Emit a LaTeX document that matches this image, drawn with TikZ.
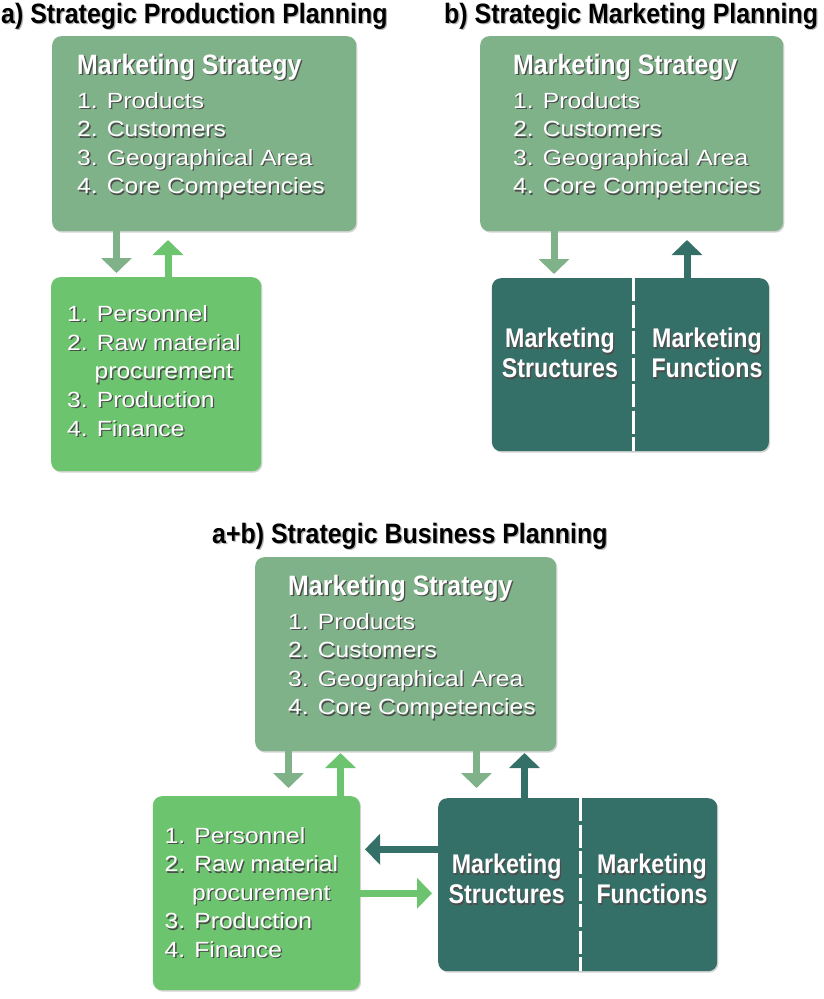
\documentclass[tikz,border=0pt]{standalone}
\usepackage{fontspec}
\usetikzlibrary{arrows.meta, calc, positioning, shadows}

\newfontfamily\headfont{Liberation Sans}[FakeStretch=0.89]
\newfontfamily\labelfont{Liberation Sans}[FakeStretch=0.86]
\newfontfamily\bodyfont{Liberation Sans}[FakeStretch=1.12]

\definecolor{stratgreen}{HTML}{80B28A}
\definecolor{prodgreen}{HTML}{6CC56E}
\definecolor{mkteal}{HTML}{357068}

% text with a small drop shadow behind it
\newcommand{\shtxt}[2][black!70]{\leavevmode\rlap{\kern1.3pt\raisebox{-1.3pt}{\textcolor{#1}{#2}}}#2}

% box contents that repeat
\newcommand{\stratlist}{\shtxt{1. Products}\\ \shtxt{2. Customers}\\ \shtxt{3. Geographical Area}\\ \shtxt{4. Core Competencies}}
\newcommand{\prodlist}{\shtxt{1. Personnel}\\ \shtxt{2. Raw material}\\ \hphantom{2.\ }\shtxt{procurement}\\ \shtxt{3. Production}\\ \shtxt{4. Finance}}

\begin{document}
\begin{tikzpicture}[
    x=1pt, y=-1pt, % pixel-like coordinates, y going down
    >=Latex,
    box/.style={rounded corners=9pt, inner sep=0pt, anchor=north west,
        drop shadow={shadow xshift=1.2pt, shadow yshift=-1.5pt, opacity=0.35}}, % all boxes
    stratbox/.style={box, fill=stratgreen},
    prodbox/.style={box, fill=prodgreen},
    mktbox/.style={box, fill=mkteal},
    title/.style={font=\headfont\bfseries\fontsize{28}{32}\selectfont, inner sep=0pt, anchor=base west},
    heading/.style={font=\headfont\bfseries\fontsize{28}{32}\selectfont, text=white, inner sep=0pt, anchor=base west},
    listtext/.style={font=\bodyfont\fontsize{22}{28.6}\selectfont, text=white, align=left, inner sep=0pt, anchor=north west},
    mktlabel/.style={font=\labelfont\bfseries\fontsize{27}{30}\selectfont, text=white, align=center, inner sep=0pt, anchor=north},
    divline/.style={white, line width=3pt, dash pattern=on 23pt off 3.5pt}, % split of the teal box
    fatarrow/.style={line width=7pt, -{Triangle[width=30pt, length=15pt]}}
]
    \useasboundingbox (0,0) rectangle (824,999);

    % Titles
    \node[title] (titleA) at (1,23) {\shtxt[black!30]{a) Strategic Production Planning}};
    \node[title] (titleB) at (444,23) {\shtxt[black!30]{b) Strategic Marketing Planning}};
    \node[title] (titleC) at (212,543) {\shtxt[black!30]{a+b) Strategic Business Planning}};

    % a) Production planning
    \node[stratbox, minimum width=304pt, minimum height=195pt] (stratA) at (52,36) {};
    \node[heading] (stratAhead) at (77,74.3) {\shtxt{Marketing Strategy}};
    \node[listtext] (stratAlist) at (77,92) {\stratlist};

    \node[prodbox, minimum width=210pt, minimum height=194pt] (prodA) at (51,277) {};
    \node[listtext] (prodAlist) at (67,305.5) {\prodlist};

    \coordinate (dnA) at (116.5,273);
    \coordinate (upA) at (168,240);
    \draw[fatarrow, stratgreen] (stratA.south -| dnA) -- (dnA);
    \draw[fatarrow, prodgreen] (prodA.north -| upA) -- (upA);

    % b) Marketing planning
    \node[stratbox, minimum width=303pt, minimum height=195pt] (stratB) at (480,36) {};
    \node[heading] (stratBhead) at (513,74.3) {\shtxt{Marketing Strategy}};
    \node[listtext] (stratBlist) at (513,92) {\stratlist};

    \node[mktbox, minimum width=277pt, minimum height=173pt] (mktB) at (491.7,278) {};
    \draw[divline] ($(mktB.north west)!0.51!(mktB.north east)$) -- ($(mktB.south west)!0.51!(mktB.south east)$);
    \node[mktlabel] (structB) at (560,328) {\shtxt{Marketing}\\ \shtxt{Structures}};
    \node[mktlabel] (funcB) at (707,328) {\shtxt{Marketing}\\ \shtxt{Functions}};

    \coordinate (dnB) at (554,274);
    \coordinate (upB) at (687,240);
    \draw[fatarrow, stratgreen] (stratB.south -| dnB) -- (dnB);
    \draw[fatarrow, mkteal] (mktB.north -| upB) -- (upB);

    % a+b) Business planning
    \node[stratbox, minimum width=301pt, minimum height=194pt] (stratC) at (255,557) {};
    \node[heading] (stratChead) at (288,595.3) {\shtxt{Marketing Strategy}};
    \node[listtext] (stratClist) at (288,613) {\stratlist};

    \node[prodbox, minimum width=207pt, minimum height=194pt] (prodC) at (152.7,796) {};
    \node[listtext] (prodClist) at (164.5,827) {\prodlist};

    \node[mktbox, minimum width=279pt, minimum height=173pt] (mktC) at (438,798) {};
    \draw[divline] ($(mktC.north west)!0.51!(mktC.north east)$) -- ($(mktC.south west)!0.51!(mktC.south east)$);
    \node[mktlabel] (structC) at (506.7,854) {\shtxt{Marketing}\\ \shtxt{Structures}};
    \node[mktlabel] (funcC) at (652,854) {\shtxt{Marketing}\\ \shtxt{Functions}};

    \coordinate (dnC1) at (288.5,788);
    \coordinate (upC1) at (340.5,753);
    \coordinate (dnC2) at (476.5,788);
    \coordinate (upC2) at (524.5,753);
    \draw[fatarrow, stratgreen] (stratC.south -| dnC1) -- (dnC1);
    \draw[fatarrow, prodgreen] (prodC.north -| upC1) -- (upC1);
    \draw[fatarrow, stratgreen] (stratC.south -| dnC2) -- (dnC2);
    \draw[fatarrow, mkteal] (mktC.north -| upC2) -- (upC2);

    % between production and marketing
    \coordinate (toProd) at (365,849.3);
    \coordinate (toMkt) at (432,893.3);
    \draw[fatarrow, mkteal] (mktC.west |- toProd) -- (toProd);
    \draw[fatarrow, prodgreen] (prodC.east |- toMkt) -- (toMkt);

\end{tikzpicture}
\end{document}
